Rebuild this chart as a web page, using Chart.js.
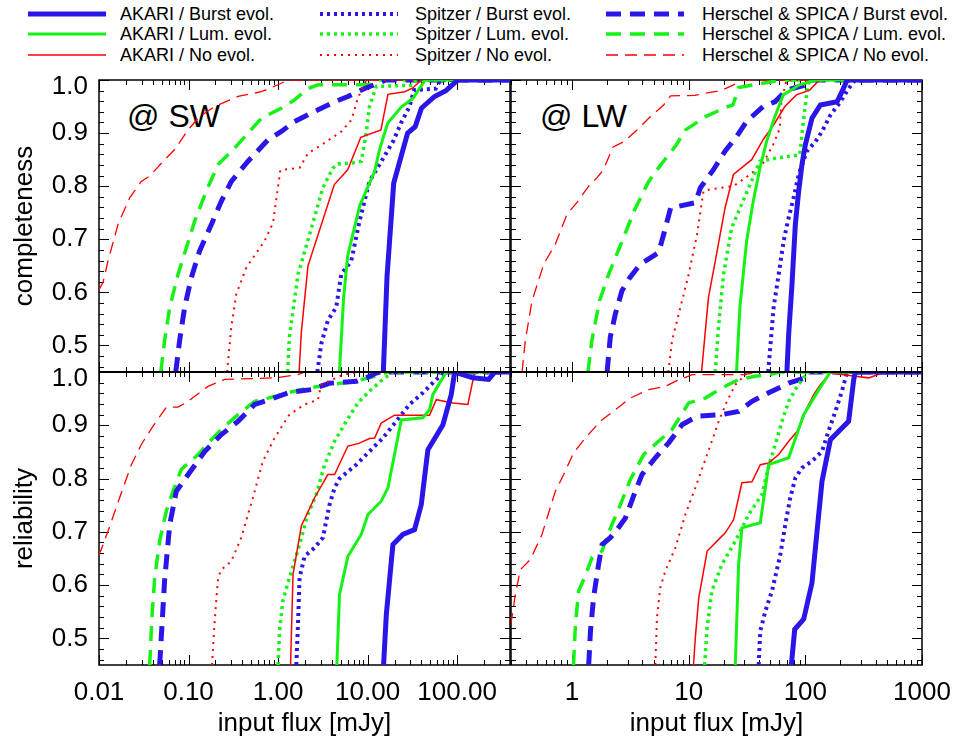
<!DOCTYPE html>
<html><head><meta charset="utf-8">
<script src="https://cdn.jsdelivr.net/npm/chart.js@4.4.0/dist/chart.umd.min.js"></script>
<style>
html,body{margin:0;padding:0;background:#fff;}
body{width:964px;height:742px;overflow:hidden;position:relative;font-family:"Liberation Sans",Arial,sans-serif;color:#000}
canvas{position:absolute}
.leg{position:absolute;height:20px;line-height:20px;font-size:18px;white-space:nowrap}
.legline{position:absolute}
.tag{position:absolute;font-size:32px;line-height:32px;white-space:nowrap}
</style></head><body>
<div id="legend"></div>
<div class="tag" style="left:127px;top:100px">@ SW</div>
<div class="tag" style="left:540px;top:100px">@ LW</div>
<canvas id="tl" width="520" height="302" style="left:0px;top:70px"></canvas>
<canvas id="tr" width="459" height="302" style="left:505px;top:70px"></canvas>
<canvas id="bl" width="520" height="380" style="left:0px;top:362px"></canvas>
<canvas id="br" width="459" height="380" style="left:505px;top:362px"></canvas>
<script>
// ---------- tick labels ----------
const SW_X_TICKS = [0.01, 0.1, 1, 10, 100];
const SW_X_LABELS = ['0.01', '0.10', '1.00', '10.00', '100.00'];
const LW_X_TICKS = [1, 10, 100, 1000];
const LW_X_LABELS = ['1', '10', '100', '1000'];
const Y_TICKS = [0.5, 0.6, 0.7, 0.8, 0.9, 1.0];
const Y_LABELS = ['0.5', '0.6', '0.7', '0.8', '0.9', '1.0'];
const SERIES_LABELS = ['AKARI / Burst evol.', 'AKARI / Lum. evol.', 'AKARI / No evol.',
  'Spitzer / Burst evol.', 'Spitzer / Lum. evol.', 'Spitzer / No evol.',
  'Herschel & SPICA / Burst evol.', 'Herschel & SPICA / Lum. evol.', 'Herschel & SPICA / No evol.'];

// ---------- completeness @ SW : [flux mJy, value] ----------
const SW_C_AK_B = [[15.0,0.45],[16.5,0.63],[19.6,0.806],[28,0.9],[34,0.912],[40,0.947],[56,0.969],[75,0.98],[102,1.0],[1000,1.0]];
const SW_C_AK_L = [[4.85,0.45],[5.4,0.59],[6.0,0.669],[8.2,0.764],[12,0.828],[13.6,0.869],[16.8,0.919],[23.8,0.949],[32,0.965],[44,1.0],[1000,1.0]];
const SW_C_AK_N = [[1.72,0.45],[1.82,0.525],[2.16,0.65],[4.25,0.803],[6.0,0.831],[8.4,0.892],[14.1,0.906],[16.9,0.973],[26,0.978],[32,0.985],[39.8,1.0],[1000,1.0]];
const SW_C_SP_B = [[2.75,0.45],[3.04,0.503],[3.6,0.547],[4.47,0.572],[5.08,0.634],[6.57,0.659],[8.13,0.734],[10.5,0.809],[15,0.853],[19.5,0.886],[23.8,0.92],[29.4,0.95],[33,0.981],[58,0.984],[65,1.0],[1000,1.0]];
const SW_C_SP_L = [[1.28,0.45],[1.34,0.516],[1.67,0.634],[2.25,0.709],[3.17,0.797],[4.1,0.834],[4.67,0.842],[6.9,0.844],[8.5,0.847],[9.67,0.9],[10.5,0.95],[12.5,0.988],[32,0.99],[35,1.0],[1000,1.0]];
const SW_C_SP_N = [[0.27,0.45],[0.30,0.534],[0.342,0.597],[0.443,0.647],[0.709,0.697],[0.879,0.731],[1.06,0.83],[1.75,0.835],[2.16,0.862],[2.95,0.876],[5.1,0.903],[6.6,0.925],[7.8,0.966],[9.7,1.0],[1000,1.0]];
const SW_C_HS_B = [[0.072,0.45],[0.0795,0.509],[0.0905,0.572],[0.1076,0.628],[0.133,0.678],[0.18,0.728],[0.233,0.772],[0.301,0.809],[0.462,0.847],[0.773,0.8875],[1.09,0.903],[1.53,0.922],[2.57,0.941],[4.3,0.959],[6.05,0.969],[9.3,0.984],[13.1,0.994],[16,1.0],[1000,1.0]];
const SW_C_HS_L = [[0.049,0.45],[0.054,0.509],[0.0617,0.572],[0.0764,0.634],[0.0946,0.684],[0.117,0.734],[0.158,0.791],[0.214,0.841],[0.328,0.872],[0.462,0.9],[0.652,0.928],[1.09,0.947],[1.53,0.9625],[2.16,0.984],[2.8,0.991],[10.1,0.991],[13.1,1.0],[1000,1.0]];
const SW_C_HS_N = [[0.0100,0.605],[0.0111,0.619],[0.0126,0.659],[0.0163,0.728],[0.022,0.778],[0.0297,0.809],[0.0368,0.819],[0.0542,0.85],[0.07,0.869],[0.0987,0.906],[0.133,0.931],[0.196,0.95],[0.357,0.969],[0.652,0.978],[1.0,0.991],[1.29,1.0],[1000,1.0]];

// ---------- completeness @ LW ----------
const LW_C_AK_B = [[69.5,0.45],[72,0.522],[76.9,0.616],[82.1,0.728],[87.7,0.791],[93.6,0.841],[100,0.878],[114,0.928],[134.5,0.953],[187,0.959],[206,0.978],[228,1.0],[1000,1.0]];
const LW_C_AK_L = [[25.7,0.45],[27.5,0.572],[31.4,0.697],[35.8,0.772],[40.8,0.834],[46.5,0.884],[54.8,0.931],[64.6,0.972],[89.5,0.991],[124,1.0],[1000,1.0]];
const LW_C_AK_N = [[12.9,0.45],[13.9,0.528],[14.8,0.591],[16.9,0.659],[20.5,0.759],[24.2,0.822],[34.7,0.85],[43.5,0.8875],[54.8,0.919],[66.7,0.95],[83.8,0.972],[109,0.981],[132,1.0],[1000,1.0]];
const LW_C_SP_B = [[48,0.45],[50.1,0.497],[53.5,0.572],[59.1,0.634],[65.2,0.697],[72,0.741],[79.4,0.778],[87.7,0.822],[103,0.866],[122,0.884],[139,0.903],[164,0.934],[200,0.959],[235,0.984],[268,1.0],[1000,1.0]];
const LW_C_SP_L = [[16.9,0.45],[18,0.534],[19.9,0.634],[23.4,0.722],[34,0.806],[40.8,0.847],[56.6,0.853],[89.5,0.859],[95.5,0.916],[105,0.991],[110,1.0],[1000,1.0]];
const LW_C_SP_N = [[6.7,0.45],[7.2,0.509],[8.5,0.572],[10,0.634],[11.8,0.709],[13.4,0.791],[15.3,0.794],[24.2,0.8],[33.6,0.822],[43.5,0.844],[53,0.878],[60.4,0.909],[62.4,0.959],[68.9,1.0],[1000,1.0]];
const LW_C_HS_B = [[2.0,0.45],[2.13,0.516],[2.35,0.559],[2.68,0.603],[3.06,0.625],[3.85,0.653],[5.53,0.675],[6.1,0.709],[7.0,0.759],[11.4,0.769],[12.6,0.797],[16.3,0.831],[20.5,0.866],[25.8,0.894],[31.4,0.922],[43.5,0.95],[54.8,0.959],[68.9,0.981],[102,0.991],[108,1.0],[1000,1.0]];
const LW_C_HS_L = [[1.37,0.45],[1.48,0.509],[1.72,0.584],[2.06,0.634],[2.55,0.684],[3.45,0.756],[4.54,0.809],[5.8,0.841],[7.69,0.875],[9.4,0.906],[14,0.931],[21,0.949],[24,0.953],[26.8,0.986],[36,0.991],[53,0.997],[60,1.0],[1000,1.0]];
const LW_C_HS_N = [[0.373,0.45],[0.398,0.509],[0.454,0.584],[0.572,0.653],[0.72,0.691],[0.906,0.747],[1.1,0.769],[1.39,0.8],[1.64,0.816],[1.85,0.83],[2.25,0.874],[2.8,0.884],[3.73,0.909],[4.55,0.928],[6.1,0.953],[7.0,0.97],[11.2,0.971],[13.9,0.975],[18.9,0.98],[26.8,0.995],[29.4,1.0],[1000,1.0]];

// ---------- reliability @ SW ----------
const SW_R_AK_B = [[15.1,0.45],[16.2,0.545],[19.2,0.676],[24.8,0.695],[33.5,0.704],[39.8,0.751],[47.2,0.854],[69.5,0.901],[86,0.9575],[94,1.0],[150,0.989],[225,0.986],[265,1.0],[1000,1.0]];
const SW_R_AK_L = [[4.54,0.45],[4.86,0.5825],[6.03,0.654],[8.5,0.695],[10.1,0.7325],[14.2,0.7575],[16.9,0.7825],[23.8,0.91],[41.5,0.914],[49.3,0.929],[53.7,0.958],[75.7,1.0],[1000,1.0]];
const SW_R_AK_N = [[1.38,0.45],[1.47,0.62],[1.82,0.711],[2.56,0.764],[3.6,0.8075],[4.28,0.8075],[6.03,0.861],[8.0,0.866],[10.5,0.875],[12.0,0.876],[14.2,0.904],[20,0.919],[49.3,0.919],[58.5,0.948],[89.8,0.942],[132,0.939],[157,1.0],[1000,1.0]];
const SW_R_SP_B = [[1.6,0.45],[1.67,0.526],[1.74,0.614],[1.98,0.654],[2.56,0.67],[3.17,0.689],[3.76,0.751],[4.28,0.7825],[4.86,0.80],[7.47,0.826],[10.5,0.851],[14.8,0.876],[20.9,0.9075],[29.4,0.939],[41.5,0.961],[58.5,0.986],[75.7,1.0],[1000,1.0]];
const SW_R_SP_L = [[1.0,0.45],[1.04,0.514],[1.13,0.57],[1.34,0.614],[1.74,0.676],[2.15,0.7325],[2.67,0.77],[3.31,0.826],[4.28,0.87],[5.78,0.9075],[7.8,0.942],[10.5,0.964],[14.8,0.986],[19.2,1.0],[1000,1.0]];
const SW_R_SP_N = [[0.183,0.45],[0.196,0.5325],[0.214,0.614],[0.233,0.629],[0.301,0.645],[0.388,0.689],[0.524,0.764],[0.677,0.8325],[0.914,0.876],[1.34,0.92],[1.98,0.939],[2.79,0.948],[3.03,0.976],[5.3,0.995],[8.1,1.0],[1000,1.0]];
const SW_R_HS_B = [[0.0476,0.45],[0.0506,0.526],[0.054,0.6075],[0.0617,0.714],[0.073,0.776],[0.099,0.8075],[0.152,0.851],[0.233,0.8825],[0.357,0.9075],[0.548,0.939],[0.8,0.948],[1.35,0.962],[2.36,0.967],[3.76,0.979],[7.5,0.9825],[9.7,0.989],[12.5,0.998],[14,1.0],[1000,1.0]];
const SW_R_HS_L = [[0.0368,0.45],[0.039,0.539],[0.0419,0.614],[0.0476,0.6825],[0.0565,0.739],[0.067,0.776],[0.083,0.817],[0.128,0.845],[0.18,0.873],[0.254,0.898],[0.357,0.92],[0.548,0.945],[0.773,0.951],[1.29,0.961],[2.16,0.97],[7.2,0.9825],[12,0.992],[17,1.0],[1000,1.0]];
const SW_R_HS_N = [[0.0098,0.655],[0.0106,0.667],[0.0126,0.701],[0.017,0.764],[0.023,0.826],[0.0297,0.864],[0.04,0.898],[0.0565,0.934],[0.0764,0.934],[0.0987,0.945],[0.165,0.973],[0.254,0.986],[0.918,0.989],[1.67,0.995],[2.0,1.0],[1000,1.0]];

// ---------- reliability @ LW ----------
const LW_R_AK_B = [[75.9,0.45],[81.1,0.517],[96.8,0.536],[114,0.604],[126,0.701],[139,0.795],[164,0.873],[235,0.9075],[260,0.986],[268,1.0],[1000,1.0]];
const LW_R_AK_L = [[25.1,0.45],[26.8,0.639],[28.6,0.7075],[41.1,0.717],[48.5,0.826],[72,0.839],[96.8,0.92],[118,0.951],[139,0.976],[164,1.0],[1000,1.0]];
const LW_R_AK_N = [[11.0,0.45],[11.4,0.501],[12.2,0.576],[14.4,0.664],[17.5,0.6825],[20.6,0.698],[24.3,0.723],[28.6,0.792],[34.9,0.794],[41.1,0.826],[48.5,0.829],[59.1,0.845],[72,0.87],[87.7,0.892],[103,0.9325],[118,0.9575],[134.5,0.976],[164,0.998],[268,0.992],[349,0.989],[454,0.998],[500,1.0],[1000,1.0]];
const LW_R_SP_B = [[39.8,0.45],[41.1,0.514],[45.4,0.551],[51.8,0.589],[61.1,0.6575],[67.4,0.714],[74.3,0.764],[82.1,0.801],[93.6,0.82],[114,0.8325],[139,0.851],[158,0.889],[181,0.926],[206,0.964],[228,1.0],[1000,1.0]];
const LW_R_SP_L = [[13.7,0.45],[14.4,0.52],[15.8,0.589],[19.3,0.639],[25.1,0.6825],[32.7,0.7325],[42.5,0.77],[48.5,0.823],[55.3,0.864],[63.1,0.9075],[72,0.945],[82.1,0.967],[93.6,0.986],[107,1.0],[1000,1.0]];
const LW_R_SP_N = [[5.18,0.45],[5.35,0.539],[5.71,0.595],[6.3,0.626],[7.69,0.67],[9.36,0.7325],[11.4,0.7825],[13.4,0.826],[15.8,0.87],[18.1,0.9075],[21.3,0.945],[25.1,0.976],[30.6,0.995],[34,1.0],[1000,1.0]];
const LW_R_HS_B = [[1.39,0.45],[1.44,0.514],[1.53,0.576],[1.69,0.639],[1.81,0.676],[2.13,0.689],[2.43,0.704],[2.87,0.726],[3.49,0.776],[3.98,0.8075],[5.18,0.839],[6.74,0.867],[8.77,0.901],[11.8,0.917],[19.3,0.92],[26.8,0.926],[34.9,0.945],[48.5,0.961],[72,0.979],[100,0.989],[107,1.0],[1000,1.0]];
const LW_R_HS_L = [[1.03,0.45],[1.07,0.526],[1.14,0.589],[1.3,0.617],[1.48,0.651],[1.81,0.664],[2.0,0.692],[2.6,0.751],[3.16,0.798],[4.11,0.845],[5.53,0.87],[7.2,0.892],[10,0.942],[13.9,0.951],[19.3,0.97],[26.8,0.986],[37.3,0.992],[51.8,0.996],[60,1.0],[1000,1.0]];
const LW_R_HS_N = [[0.30,0.525],[0.302,0.5325],[0.327,0.5825],[0.361,0.629],[0.44,0.648],[0.553,0.695],[0.611,0.726],[0.72,0.776],[0.849,0.8075],[1.03,0.848],[1.3,0.876],[1.75,0.9075],[2.35,0.929],[3.16,0.951],[4.54,0.967],[6.3,0.973],[7.69,0.9825],[10.7,0.995],[30,0.995],[40,1.0],[1000,1.0]];

// ---------- styles ----------
const BLUE = 'rgb(42,22,232)', GREEN = 'rgb(22,242,22)', RED = 'rgb(255,0,0)';
const STYLES = [
  {c: BLUE, w: 5, d: []}, {c: GREEN, w: 3, d: []}, {c: RED, w: 1.5, d: []},
  {c: BLUE, w: 4, d: [3, 4]}, {c: GREEN, w: 3.5, d: [3, 4]}, {c: RED, w: 2, d: [2, 5]},
  {c: BLUE, w: 5, d: [15, 9]}, {c: GREEN, w: 3.5, d: [15, 9]}, {c: RED, w: 1.3, d: [12, 7]}
];

// ---------- legend ----------
(function () {
  const lg = document.getElementById('legend');
  const lineX = [28, 320, 606], textX = [120, 415, 702], rowY = [14, 34, 55];
  SERIES_LABELS.forEach((lab, i) => {
    const col = Math.floor(i / 3), row = i % 3, s = STYLES[i];
    const svg = document.createElementNS('http://www.w3.org/2000/svg', 'svg');
    svg.setAttribute('class', 'legline');
    svg.setAttribute('width', '80'); svg.setAttribute('height', '12');
    svg.style.left = lineX[col] + 'px'; svg.style.top = (rowY[row] - 6) + 'px';
    const ln = document.createElementNS('http://www.w3.org/2000/svg', 'line');
    ln.setAttribute('x1', '0'); ln.setAttribute('x2', '78'); ln.setAttribute('y1', '6'); ln.setAttribute('y2', '6');
    ln.setAttribute('stroke', s.c); ln.setAttribute('stroke-width', s.w);
    if (s.d.length) ln.setAttribute('stroke-dasharray', s.d.join(' '));
    svg.appendChild(ln); lg.appendChild(svg);
    const t = document.createElement('div');
    t.className = 'leg'; t.textContent = lab;
    t.style.left = textX[col] + 'px'; t.style.top = (rowY[row] - 10) + 'px';
    lg.appendChild(t);
  });
})();

// ---------- frame / inward ticks ----------
const framePlugin = {
  id: 'frame',
  beforeDatasetsDraw(chart, args, o) {
    const {ctx, chartArea: a} = chart;
    const xs = chart.scales.x, ys = chart.scales.y;
    ctx.save();
    ctx.strokeStyle = '#000'; ctx.lineWidth = 1;
    ctx.beginPath();
    const xmin = xs.min, xmax = xs.max;
    for (let e = -3; e <= 3; e++) {
      for (let m = 1; m <= 9; m++) {
        const v = m * Math.pow(10, e);
        if (v < xmin * 0.999 || v > xmax * 1.001) continue;
        const px = Math.round(xs.getPixelForValue(v)) + 0.5;
        const len = m === 1 ? 10 : 5;
        ctx.moveTo(px, a.bottom); ctx.lineTo(px, a.bottom - len);
        ctx.moveTo(px, a.top); ctx.lineTo(px, a.top + len);
      }
    }
    for (let k = 23; k <= 50; k++) {
      const v = k * 0.02;
      const py = Math.round(ys.getPixelForValue(v)) + 0.5;
      const len = (k % 5 === 0) ? 10 : 5;
      ctx.moveTo(a.left, py); ctx.lineTo(a.left + len, py);
      ctx.moveTo(a.right, py); ctx.lineTo(a.right - len, py);
    }
    ctx.stroke();
    ctx.lineWidth = 1.5;
    ctx.strokeRect(a.left, a.top, a.right - a.left, a.bottom - a.top);
    ctx.restore();
  },
  afterDatasetsDraw(chart, args, o) {
    if (!o || !o.topLine) return;
    const {ctx, chartArea: a} = chart;
    ctx.save();
    ctx.strokeStyle = '#000'; ctx.lineWidth = 2;
    ctx.beginPath(); ctx.moveTo(a.left, a.top); ctx.lineTo(a.right, a.top); ctx.stroke();
    ctx.restore();
  }
};

const FONT = '"Liberation Sans", Arial, sans-serif';

function makePanel(id, seriesList, xMin, xMax, xTicks, xLabels, showX, showY, yTitle, isBottom, isLeft) {
  const datasets = seriesList.map((arr, i) => ({
    label: SERIES_LABELS[i],
    data: arr.map(p => ({x: p[0], y: p[1]})),
    borderColor: STYLES[i].c, backgroundColor: STYLES[i].c,
    borderWidth: STYLES[i].w, borderDash: STYLES[i].d,
    borderCapStyle: 'butt', borderJoinStyle: 'miter',
    showLine: true, pointRadius: 0, pointHoverRadius: 0, tension: 0, fill: false, clip: 0
  }));
  const pad = {
    left: isLeft ? 0 : 6, right: isLeft ? 10 : 42, top: 10, bottom: 0
  };
  new Chart(document.getElementById(id), {
    type: 'scatter',
    data: {datasets},
    options: {
      responsive: false, animation: false, devicePixelRatio: 1,
      layout: {padding: pad},
      events: [],
      plugins: {legend: {display: false}, tooltip: {enabled: false}, frame: {topLine: isBottom}},
      scales: {
        x: {
          type: 'logarithmic', min: xMin, max: xMax, display: showX,
          afterBuildTicks: s => { s.ticks = xTicks.map(v => ({value: v})); },
          afterFit: s => { if (showX) { s.height = 77; } else { s.height = 0; } s.paddingLeft = 0; s.paddingRight = 0; },
          grid: {display: false, drawTicks: false}, border: {display: false},
          ticks: {autoSkip: false, maxRotation: 0, minRotation: 0, padding: 12, color: '#000',
            font: {family: FONT, size: 26}, callback: (v, i) => xLabels[i]},
          title: {display: true, text: 'input flux [mJy]', color: '#000', font: {family: FONT, size: 26},
            padding: {top: 0, bottom: 3}}
        },
        y: {
          type: 'linear', min: 0.45, max: 1.0, display: showY,
          afterBuildTicks: s => { s.ticks = Y_TICKS.map(v => ({value: v})); },
          afterFit: s => { if (showY) { s.width = 99; } else { s.width = 0; } s.paddingTop = 0; s.paddingBottom = 0; },
          grid: {display: false, drawTicks: false}, border: {display: false},
          ticks: {autoSkip: false, padding: 11, color: '#000',
            font: {family: FONT, size: 26, lineHeight: '14px'},
            callback: (v, i) => (i === Y_LABELS.length - 1 ? ['', Y_LABELS[i]] : Y_LABELS[i])},
          title: {display: true, text: yTitle, color: '#000', font: {family: FONT, size: 26},
            padding: {top: 9, bottom: 0}}
        }
      }
    },
    plugins: [framePlugin]
  });
}

makePanel('tl', [SW_C_AK_B, SW_C_AK_L, SW_C_AK_N, SW_C_SP_B, SW_C_SP_L, SW_C_SP_N, SW_C_HS_B, SW_C_HS_L, SW_C_HS_N],
  0.01, 390, SW_X_TICKS, SW_X_LABELS, false, true, 'completeness', false, true);
makePanel('tr', [LW_C_AK_B, LW_C_AK_L, LW_C_AK_N, LW_C_SP_B, LW_C_SP_L, LW_C_SP_N, LW_C_HS_B, LW_C_HS_L, LW_C_HS_N],
  0.3, 1000, LW_X_TICKS, LW_X_LABELS, false, false, '', false, false);
makePanel('bl', [SW_R_AK_B, SW_R_AK_L, SW_R_AK_N, SW_R_SP_B, SW_R_SP_L, SW_R_SP_N, SW_R_HS_B, SW_R_HS_L, SW_R_HS_N],
  0.01, 390, SW_X_TICKS, SW_X_LABELS, true, true, 'reliability', true, true);
makePanel('br', [LW_R_AK_B, LW_R_AK_L, LW_R_AK_N, LW_R_SP_B, LW_R_SP_L, LW_R_SP_N, LW_R_HS_B, LW_R_HS_L, LW_R_HS_N],
  0.3, 1000, LW_X_TICKS, LW_X_LABELS, true, false, '', true, false);
</script>
</body></html>
